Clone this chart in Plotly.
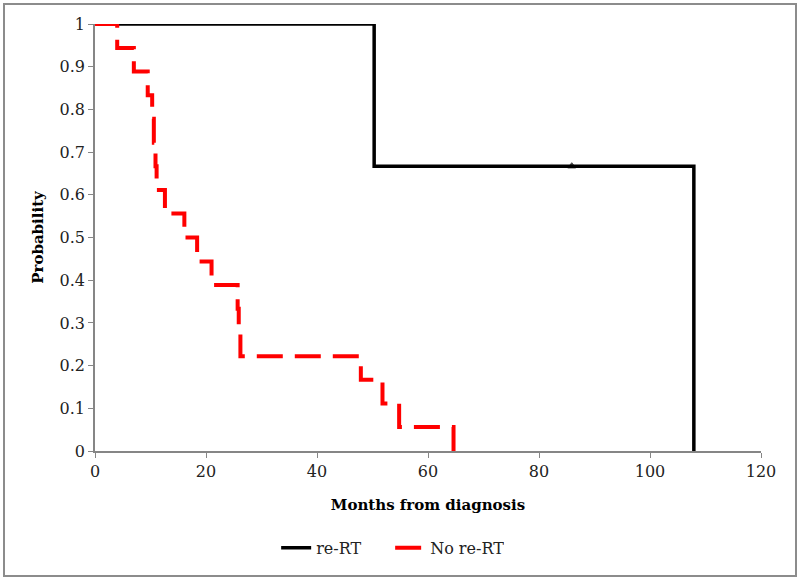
import plotly.graph_objects as go

# Kaplan-Meier step data (months, survival probability)
rert_months = [0, 50.3, 85.9, 107.9]
rert_surv = [1.0, 0.667, 0.667, 0.0]
rert_marker = [0, 0, 7, 0]  # censor mark at ~86 months

norert_months = [0, 4.0, 7.0, 9.5, 10.3, 10.6, 10.9, 11.1, 12.6, 16.1, 18.4,
                 21.0, 25.7, 25.9, 26.2, 47.9, 51.8, 54.8, 64.6]
norert_surv = [1.0, 0.944, 0.889, 0.833, 0.778, 0.722, 0.667, 0.611, 0.556,
               0.5, 0.444, 0.389, 0.333, 0.278, 0.222, 0.167, 0.111, 0.056, 0.0]

serif = "DejaVu Serif, Liberation Serif, serif"
axis_grey = "#868686"

fig = go.Figure()

fig.add_trace(go.Scatter(
    x=rert_months, y=rert_surv, name="re-RT",
    mode="lines+markers", line=dict(color="black", width=3.5, shape="hv"),
    marker=dict(symbol="triangle-up", size=rert_marker, color="black",
                line=dict(color="black", width=1)),
))

fig.add_trace(go.Scatter(
    x=norert_months, y=norert_surv, name="No re-RT",
    mode="lines", line=dict(color="#ff0000", width=4, shape="hv", dash="26px,12px"),
))

# outer chart frame
fig.add_shape(type="rect", xref="paper", yref="paper",
              x0=(4 - 95) / 666, x1=(796 - 95) / 666,
              y0=(451 - 576) / 427, y1=(451 - 4) / 427,
              line=dict(color="#8c8c8c", width=2), layer="below")

fig.update_layout(
    width=800, height=583,
    margin=dict(l=95, r=39, t=24, b=132),
    paper_bgcolor="white", plot_bgcolor="white",
    font=dict(family=serif, size=16, color="#222222"),
    showlegend=True,
    legend=dict(orientation="h", x=0.272, xanchor="left", y=-0.227, yanchor="middle",
                font=dict(size=16, color="#222222"), entrywidth=69, entrywidthmode="pixels"),
)

fig.update_xaxes(
    range=[0, 120], dtick=20, showgrid=False, zeroline=False,
    showline=True, linecolor=axis_grey, linewidth=1.5,
    ticks="outside", ticklen=5, tickcolor=axis_grey,
    title=dict(text="<b>Months from diagnosis</b>", standoff=20,
               font=dict(size=15, color="black")),
)
fig.update_yaxes(
    range=[0, 1], dtick=0.1, showgrid=False, zeroline=False,
    showline=True, linecolor=axis_grey, linewidth=1.5,
    ticks="outside", ticklen=5, tickcolor=axis_grey,
    title=dict(text="<b>Probability</b>", standoff=12,
               font=dict(size=15, color="black")),
)

fig.write_html("out.html", config={"displayModeBar": False},
               post_script="document.body.style.margin='0';")
